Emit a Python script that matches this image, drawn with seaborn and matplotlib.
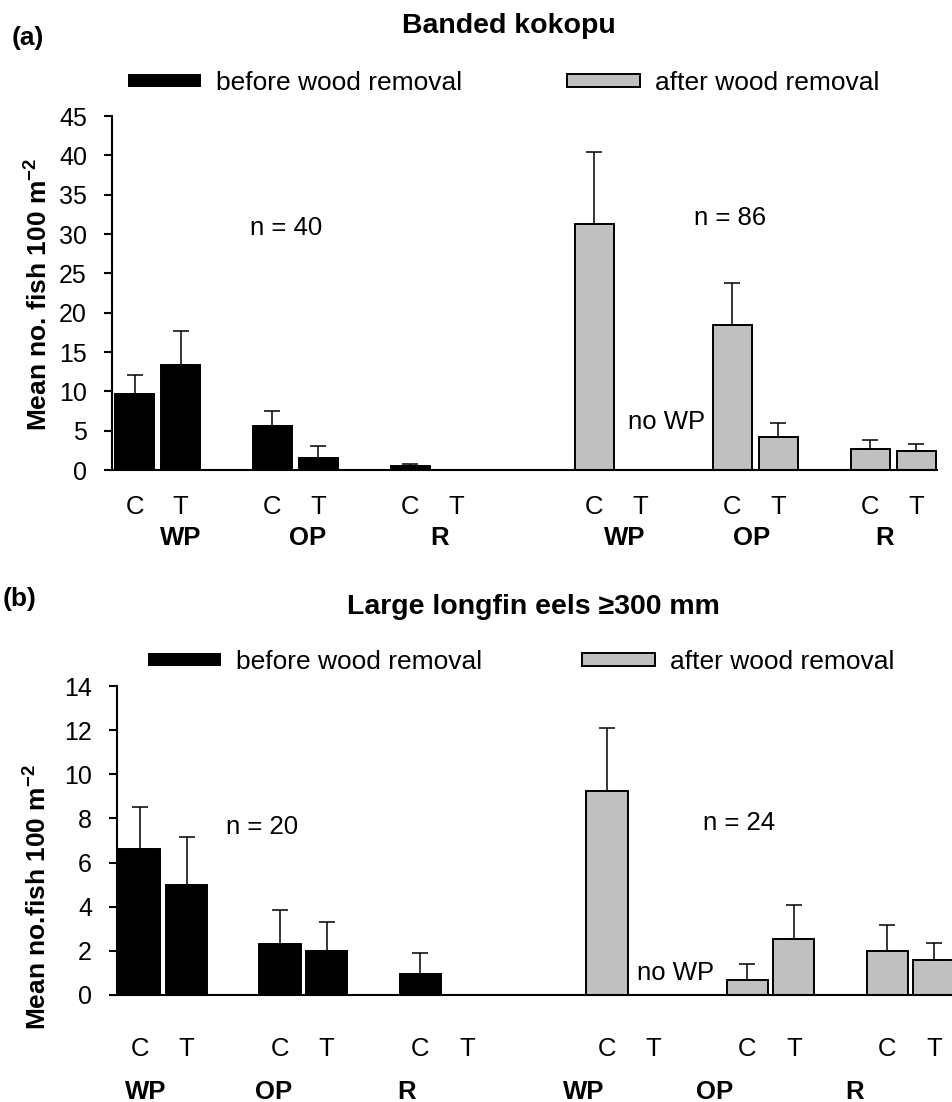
import numpy as np
import pandas as pd
import matplotlib
matplotlib.use("Agg")
import matplotlib.pyplot as plt
from matplotlib.patches import Patch
from matplotlib.transforms import blended_transform_factory
import seaborn as sns

# ---- data -------------------------------------------------------------
habitats = ["WP", "OP", "R"]
treatments = ["C", "T"]
periods = ["before wood removal", "after wood removal"]

# Banded kokopu: mean fish per 100 m2 and standard error, order WP-C, WP-T, OP-C, OP-T, R-C, R-T
kokopu_before_mean = [9.6, 13.4, 5.6, 1.5, 0.5, np.nan]
kokopu_before_se = [2.5, 4.3, 1.9, 1.5, 0.3, np.nan]
kokopu_after_mean = [31.3, np.nan, 18.4, 4.2, 2.7, 2.4]
kokopu_after_se = [9.1, np.nan, 5.4, 1.8, 1.1, 0.9]

# Large longfin eels >= 300 mm
eel_before_mean = [6.6, 5.0, 2.3, 2.0, 0.95, np.nan]
eel_before_se = [1.9, 2.15, 1.55, 1.3, 0.95, np.nan]
eel_after_mean = [9.25, np.nan, 0.7, 2.55, 2.0, 1.6]
eel_after_se = [2.85, np.nan, 0.7, 1.55, 1.15, 0.75]

kokopu_n = ["n = 40", "n = 86"]
eel_n = ["n = 20", "n = 24"]

# ---- style ------------------------------------------------------------
sns.set_style("ticks")
plt.rcParams["font.family"] = ["Liberation Sans", "DejaVu Sans"]
plt.rcParams["mathtext.fontset"] = "custom"
plt.rcParams["mathtext.rm"] = "Liberation Sans"
plt.rcParams["mathtext.bf"] = "Liberation Sans:bold"
plt.rcParams["text.color"] = "black"
plt.rcParams["axes.labelcolor"] = "black"
plt.rcParams["xtick.color"] = "black"
plt.rcParams["ytick.color"] = "black"

BLACK = "#000000"
GREY = "#C0C0C0"
palette = {periods[0]: BLACK, periods[1]: GREY}

FS_TICK = 18
FS_CAT = 18.5
FS_TEXT = 18.5
FS_LEG = 19
FS_YLAB = 19
FS_TITLE = 20.5


def build_frame(before_mean, before_se, after_mean, after_se):
    rows = []
    for p, (means, ses) in enumerate([(before_mean, before_se), (after_mean, after_se)]):
        k = 0
        for i, hab in enumerate(habitats):
            for j, trt in enumerate(treatments):
                rows.append(dict(slot=p * 10 + i * 3 + j, habitat=hab, treatment=trt,
                                 period=periods[p], mean=means[k], se=ses[k]))
                k += 1
    return pd.DataFrame(rows)


def draw_panel(ax, df, ymax, ystep, width):
    bars = df.dropna(subset=["mean"])
    sns.barplot(data=bars, x="slot", y="mean", hue="period", hue_order=periods,
                palette=palette, native_scale=True, dodge=False, width=width,
                saturation=1, edgecolor="black", linewidth=1.4, errorbar=None,
                legend=False, ax=ax)
    ax.errorbar(bars["slot"], bars["mean"],
                yerr=[np.zeros(len(bars)), bars["se"]], fmt="none",
                ecolor="black", elinewidth=1.1, capsize=6, capthick=1.1, zorder=3)
    ax.set_xlim(-0.49, 17.45)
    ax.set_ylim(0, ymax)
    ax.set_yticks(np.arange(0, ymax + 0.1, ystep))
    ax.set_xticks(df["slot"], df["treatment"])
    ax.set_xlabel("")
    ax.set_ylabel("")
    for s in ["top", "right"]:
        ax.spines[s].set_visible(False)
    for s in ["left", "bottom"]:
        ax.spines[s].set_linewidth(1.5)
        ax.spines[s].set_color("black")
    ax.tick_params(axis="y", length=6, width=1.5, pad=12, labelsize=FS_TICK, colors="black")
    ax.tick_params(axis="x", length=0, labelsize=FS_CAT, colors="black")
    ax.patch.set_alpha(0)


def add_legends(fig, y, x_before, x_after):
    for period, x0 in zip(periods, [x_before, x_after]):
        handle = Patch(facecolor=palette[period],
                       edgecolor="black", linewidth=1.4 if period == periods[1] else 0)
        fig.legend([handle], [period], loc="center left", bbox_to_anchor=(x0, y),
                   frameon=False, fontsize=FS_LEG, borderpad=0, borderaxespad=0,
                   handlelength=2.75, handleheight=0.42, handletextpad=0.58)


W, H = 952, 1102
fig = plt.figure(figsize=(W / 100, H / 100), dpi=100)

def fx(px):
    return px / W

def fy(py):
    return (H - py) / H

# ---- panel (a) --------------------------------------------------------
df_a = build_frame(kokopu_before_mean, kokopu_before_se, kokopu_after_mean, kokopu_after_se)
ax_a = fig.add_axes([fx(112), fy(470), fx(937) - fx(112), fy(116) - fy(470)])
draw_panel(ax_a, df_a, 45, 5, 0.85)
ax_a.tick_params(axis="x", pad=18)

fig.text(fx(12), fy(38), "(a)", fontsize=19, fontweight="bold", ha="left", va="center")
fig.text(fx(509), fy(26), "Banded kokopu", fontsize=FS_TITLE, fontweight="bold",
         ha="center", va="center")
add_legends(fig, fy(83), fx(128), fx(567))
fig.text(fx(38), fy(294), r"Mean no. fish 100 m$^{\mathbf{-2}}$", rotation=90,
         fontsize=FS_YLAB, fontweight="bold", ha="center", va="center")

ax_a.text(3.29, 30.7, kokopu_n[0], fontsize=FS_TEXT, ha="center", va="center")
ax_a.text(12.95, 32.0, kokopu_n[1], fontsize=FS_TEXT, ha="center", va="center")
ax_a.text(11.58, 6.1, "no WP", fontsize=FS_TEXT, ha="center", va="center")

tr_a = blended_transform_factory(ax_a.transData, fig.transFigure)
for xpos, lab in zip([1.01, 3.77, 6.64, 10.66, 13.42, 16.3], habitats * 2):
    ax_a.text(xpos, fy(538), lab, transform=tr_a, fontsize=FS_CAT, fontweight="bold",
              ha="center", va="center", clip_on=False)

# ---- panel (b) --------------------------------------------------------
df_b = build_frame(eel_before_mean, eel_before_se, eel_after_mean, eel_after_se)
ax_b = fig.add_axes([fx(117), fy(995), (838) / W, fy(686) - fy(995)])
draw_panel(ax_b, df_b, 14, 2, 0.88)
ax_b.tick_params(axis="x", pad=30)

fig.text(fx(3), fy(599), "(b)", fontsize=19, fontweight="bold", ha="left", va="center")
fig.text(fx(533), fy(607), "Large longfin eels ≥300 mm", fontsize=FS_TITLE, fontweight="bold",
         ha="center", va="center")
add_legends(fig, fy(662), fx(148), fx(582))
fig.text(fx(37), fy(897), r"Mean no.fish 100 m$^{\mathbf{-2}}$", rotation=90,
         fontsize=FS_YLAB, fontweight="bold", ha="center", va="center")

ax_b.text(2.61, 7.6, eel_n[0], fontsize=FS_TEXT, ha="center", va="center")
ax_b.text(12.83, 7.8, eel_n[1], fontsize=FS_TEXT, ha="center", va="center")
ax_b.text(11.46, 1.0, "no WP", fontsize=FS_TEXT, ha="center", va="center")

tr_b = blended_transform_factory(ax_b.transData, fig.transFigure)
for xpos, lab in zip([0.13, 2.87, 5.7, 9.5, 12.3, 15.3], habitats * 2):
    ax_b.text(xpos, fy(1092), lab, transform=tr_b, fontsize=FS_CAT, fontweight="bold",
              ha="center", va="center", clip_on=False)

fig.savefig("out.png", dpi=100, facecolor="white")
